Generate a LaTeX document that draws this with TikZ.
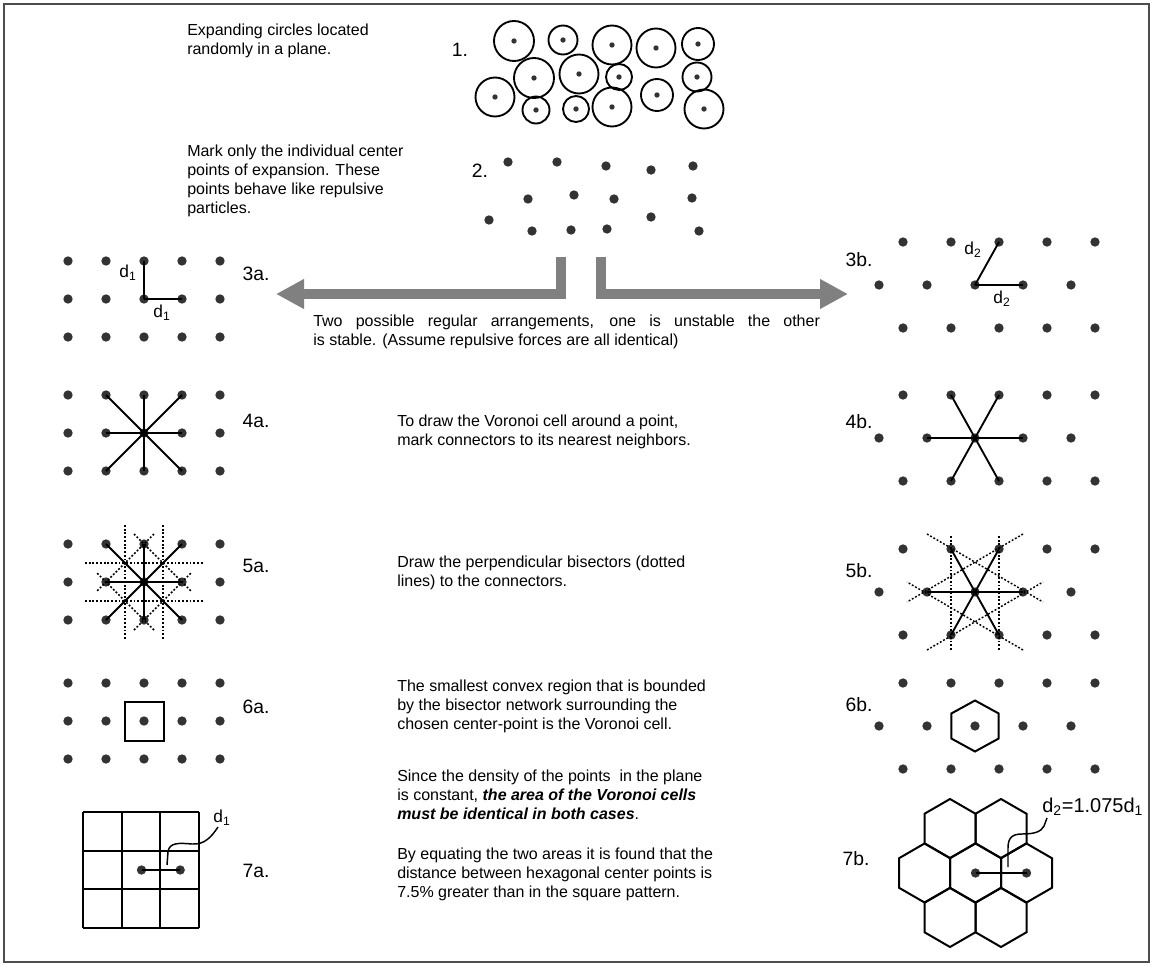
\documentclass[tikz,border=0pt]{standalone}
\usepackage{fontspec}
\setmainfont{Liberation Sans}
\usetikzlibrary{positioning,arrows.meta}
\definecolor{dotgray}{HTML}{333333}
\definecolor{arrowgray}{HTML}{808080}
\definecolor{framegray}{HTML}{4D4D4D}
\tikzset{
  ptdot/.style={circle,fill=dotgray,inner sep=0pt,minimum size=7pt},
  smalldot/.style={circle,fill=dotgray,inner sep=0pt,minimum size=4pt},
  bubble/.style={circle,draw,line width=1.4pt,inner sep=0pt},
  link/.style={line width=1.4pt},
  bisector/.style={line width=1.1pt,dash pattern=on 1.4pt off 1.4pt},
  cellline/.style={line width=1.5pt},
  bigarrow/.style={arrowgray,line width=7.5pt,-{Triangle[length=21pt,width=21pt]}},
  steplabel/.style={font=\fontsize{14.5}{17}\selectfont,inner sep=0pt},
  desc/.style={anchor=north west,align=left,inner sep=0pt,font=\fontsize{12}{14.25}\selectfont},
  dlabel/.style={font=\fontsize{13}{15}\selectfont,inner sep=0pt}
}
\begin{document}
\begin{tikzpicture}[x=0.75pt,y=-0.75pt]
  \useasboundingbox (0,0) rectangle (1153,966);
  \draw[framegray,line width=1.2pt] (4,4) rectangle (1149,962);

  % STEP 1: expanding circles
  \node[steplabel] (l1) at (460,50) {1.};
  \foreach \k/\x/\y/\r in {1/514/41/20, 2/563/40/14.5, 3/612/45/19.5, 4/656/48/19.5,
      5/698/44/16, 6/534/78/20, 7/579/74/19.5, 8/619/77/13, 9/697/77/14.5,
      10/495/97/19.5, 11/536/110/13.5, 12/576/109/13, 13/612/107/19.5,
      14/657/95/16, 15/704/109/19.5} {
    \node[bubble,minimum size=\r*1.5pt] (c\k) at (\x,\y) {};
    \node[smalldot] (c\k-dot) at (c\k) {};
  }
  \node[desc] (t1) at (187,24) {Expanding circles located\\randomly in a plane.};

  % STEP 2: centre points only
  \node[steplabel] (l2) at (480,171) {2.};
  \foreach \k/\x/\y in {1/508/162, 2/557/162, 3/606/166, 4/651/170, 5/693/166,
      6/528/199, 7/574/195, 8/614/199, 9/692/198, 10/489/220,
      11/532/231, 12/571/230, 13/607/229, 14/651/217, 15/699/231}
    \node[ptdot] (p\k) at (\x,\y) {};
  \node[desc] (t2) at (187,145) {Mark only the individual center\\points of expansion. These\\points behave like repulsive\\particles.};

  % split into the two arrangements
  \coordinate (lsrc) at (561,257);
  \coordinate (ltip) at (276,294);
  \coordinate (rsrc) at (601,257);
  \coordinate (rtip) at (848,294);
  \draw[bigarrow] (lsrc) |- (ltip);
  \draw[bigarrow] (rsrc) |- (rtip);
  \node[desc] (t3) at (313,315) {\makebox[380pt][s]{Two possible regular arrangements, one is unstable the other}\\is stable. (Assume repulsive forces are all identical)};

  % square lattices (left column)
  \foreach \n/\y in {a3/261, a4/395, a5/544, a6/683} {
    \foreach \i in {1,...,5}
      \foreach \j in {1,2,3}
        \node[ptdot] (\n-\j-\i) at ({68+38*(\i-1)},{\y+38*(\j-1)}) {};
  }
  % hexagonal lattices (right column)
  \foreach \n/\y in {b3/242, b4/395, b5/549, b6/683} {
    \foreach \i in {1,...,5} {
      \node[ptdot] (\n-1-\i) at ({903+48*(\i-1)},\y) {};
      \node[ptdot] (\n-2-\i) at ({879+48*(\i-1)},{\y+43}) {};
      \node[ptdot] (\n-3-\i) at ({903+48*(\i-1)},{\y+86}) {};
    }
  }

  % 3a / 3b: spacings
  \node[steplabel] (l3a) at (256,274) {3a.};
  \draw[link] (a3-2-3.center) -- (a3-1-3.center);
  \draw[link] (a3-2-3.center) -- (a3-2-4.center);
  \node[dlabel] (a3-dv) at (128,273) {d\textsubscript{1}};
  \node[dlabel] (a3-dh) at (162,313) {d\textsubscript{1}};
  \node[steplabel] (l3b) at (859,260) {3b.};
  \draw[link] (b3-2-3.center) -- (b3-1-3.center);
  \draw[link] (b3-2-3.center) -- (b3-2-4.center);
  \node[dlabel] (b3-du) at (973,250) {d\textsubscript{2}};
  \node[dlabel] (b3-dh) at (1002,299) {d\textsubscript{2}};

  % 4a / 4b: connectors to nearest neighbours
  \node[steplabel] (l4a) at (256,421) {4a.};
  \foreach \j/\i in {1/2,1/3,1/4,2/2,2/4,3/2,3/3,3/4}
    \draw[link] (a4-2-3.center) -- (a4-\j-\i.center);
  \node[steplabel] (l4b) at (859,422) {4b.};
  \foreach \j/\i in {1/2,1/3,2/2,2/4,3/2,3/3}
    \draw[link] (b4-2-3.center) -- (b4-\j-\i.center);
  \node[desc] (t4) at (397,415) {To draw the Voronoi cell around a point,\\mark connectors to its nearest neighbors.};

  % 5a / 5b: perpendicular bisectors
  \node[steplabel] (l5a) at (256,566) {5a.};
  \foreach \j/\i in {1/2,1/3,1/4,2/2,2/4,3/2,3/3,3/4}
    \draw[link] (a5-2-3.center) -- (a5-\j-\i.center);
  \begin{scope}[shift={(a5-2-3)}]
    \draw[bisector] (-19,-57) -- (-19,57);
    \draw[bisector] (19,-57) -- (19,57);
    \draw[bisector] (-59,-19) -- (59,-19);
    \draw[bisector] (-59,19) -- (59,19);
    \draw[bisector] (-10,-48) -- (48,10);
    \draw[bisector] (10,-48) -- (-48,10);
    \draw[bisector] (-10,48) -- (48,-10);
    \draw[bisector] (10,48) -- (-48,-10);
  \end{scope}
  \node[steplabel] (l5b) at (859,571) {5b.};
  \foreach \j/\i in {1/2,1/3,2/2,2/4,3/2,3/3}
    \draw[link] (b5-2-3.center) -- (b5-\j-\i.center);
  \begin{scope}[shift={(b5-2-3)}]
    \draw[bisector] (-24,-56) -- (-24,58);
    \draw[bisector] (24,-56) -- (24,58);
    \draw[bisector] (-48,-58) -- (68,10);
    \draw[bisector] (48,-58) -- (-68,10);
    \draw[bisector] (-48,58) -- (68,-10);
    \draw[bisector] (48,58) -- (-68,-10);
  \end{scope}
  \node[desc] (t5) at (397,556) {Draw the perpendicular bisectors (dotted\\lines) to the connectors.};

  % 6a / 6b: Voronoi cells
  \node[steplabel] (l6a) at (256,707) {6a.};
  \node[draw,cellline,minimum size=29.25pt,inner sep=0pt] (a6-cell) at (a6-2-3) {};
  \node[steplabel] (l6b) at (859,705) {6b.};
  \draw[cellline] (b6-2-3.center) ++(0,-25.5) -- ++(23.7,13) -- ++(0,25) -- ++(-23.7,13)
    -- ++(-23.7,-13) -- ++(0,-25) -- cycle;
  \node[desc] (t6) at (397,680) {The smallest convex region that is bounded\\by the bisector network surrounding the\\chosen center-point is the Voronoi cell.};

  % 7a: square tiling
  \node[steplabel] (l7a) at (256,871) {7a.};
  \foreach \v in {0,...,3} {
    \draw[cellline] ({83+38.7*\v},812) -- ({83+38.7*\v},928);
    \draw[cellline] (83,{812+38.7*\v}) -- (199,{812+38.7*\v});
  }
  \node[ptdot] (a7-p) at (141.5,870) {};
  \node[ptdot] (a7-q) at (180.2,870) {};
  \draw[link] (a7-p.center) -- (a7-q.center);
  \node[dlabel] (a7-d1) at (222,818) {d\textsubscript{1}};
  \coordinate (a7-lead) at (167,865);
  \coordinate (a7-leadtop) at (218,827);
  \draw[line width=1.1pt] (a7-lead) -- (168,852) .. controls (169,842) and (180,843) .. (192,844)
    .. controls (205,845) and (212,836) .. (a7-leadtop);

  % 7b: hexagonal tiling
  \node[steplabel] (l7b) at (856,859) {7b.};
  \foreach \cx/\cy in {950/828.5, 1001/828.5, 924.5/873, 975.5/873, 1026.5/873, 950/917.5, 1001/917.5}
    \draw[cellline] (\cx,\cy) ++(0,-29.5) -- ++(25.5,14.75) -- ++(0,29.5) -- ++(-25.5,14.75)
      -- ++(-25.5,-14.75) -- ++(0,-29.5) -- cycle;
  \node[ptdot] (b7-p) at (975.5,873) {};
  \node[ptdot] (b7-q) at (1026.5,873) {};
  \draw[link] (b7-p.center) -- (b7-q.center);
  \node[dlabel,anchor=west,font=\fontsize{15}{17}\selectfont] (b7-d2) at (1042,807) {d\textsubscript{2}=1.075d\textsubscript{1}};
  \coordinate (b7-lead) at (1008,867);
  \coordinate (b7-leadtop) at (1047,818);
  \draw[line width=1.1pt] (b7-lead) -- (1008,848) .. controls (1008,838) and (1012,834) .. (1022,834)
    .. controls (1034,834) and (1041,832) .. (1044,826) -- (b7-leadtop);

  \node[desc] (t7) at (397,770) {Since the density of the points\ \ in the plane\\is constant, \textbf{\textit{the area of the Voronoi cells}}\\\textbf{\textit{must be identical in both cases}}.};
  \node[desc] (t8) at (397,848) {By equating the two areas it is found that the\\distance between hexagonal center points is\\7.5\% greater than in the square pattern.};
\end{tikzpicture}
\end{document}
